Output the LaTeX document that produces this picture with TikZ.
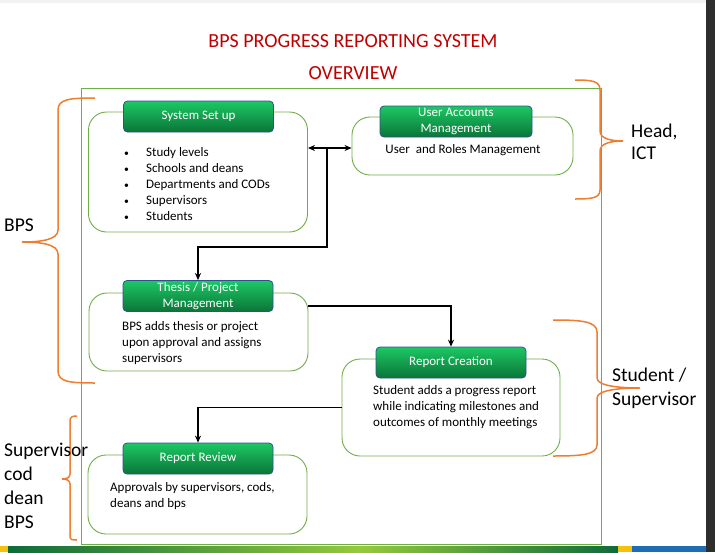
\documentclass[tikz,border=0pt]{standalone}
\usepackage{fontspec}
\setmainfont{Carlito}
\usetikzlibrary{arrows.meta}

\definecolor{titlered}{HTML}{C00000}
\definecolor{grpgreen}{HTML}{70AD47}
\definecolor{hdtop}{HTML}{1CC864}
\definecolor{hdbot}{HTML}{0B7538}
\definecolor{hdline}{HTML}{2F528F}
\definecolor{braceorange}{HTML}{ED7D31}
\definecolor{stripdark}{HTML}{0E6B3A}
\definecolor{striplight}{HTML}{95C93D}
\definecolor{stripyellow}{HTML}{F4C20D}
\definecolor{stripblue}{HTML}{1F6DB2}

\newcommand{\bul}{\makebox[22pt][l]{\scalebox{0.75}{\textbullet}}}

\tikzset{
  group/.style={draw=grpgreen, line width=0.9pt, rounded corners=18pt, fill=white, inner sep=0pt},
  header/.style={draw=hdline, line width=0.8pt, rounded corners=4pt, top color=hdtop, bottom color=hdbot,
    text=white, font=\fontsize{13}{16}\selectfont, align=center, minimum width=150pt, minimum height=31pt, inner sep=0pt},
  body/.style={font=\fontsize{13}{16}\selectfont, align=left, inner sep=0pt},
  title/.style={font=\fontsize{20}{24}\selectfont, text=titlered, inner sep=0pt},
  role/.style={font=\fontsize{19.5}{24}\selectfont, align=left, inner sep=0pt, anchor=west},
  flow/.style={line width=1.3pt, -{Stealth[length=7pt,width=6pt]}},
  brace/.style={draw=braceorange, line width=1.5pt},
}

\begin{document}
\begin{tikzpicture}[x=1pt, y=-1pt]
  \useasboundingbox (0,0) rectangle (715,552);
  % screen edges
  \fill[black!5] (0,0) rectangle (706,3);
  \fill[black!82] (706,0) rectangle (715,552);
  \shade[left color=stripdark, right color=striplight] (8,546) rectangle (360,552);
  \shade[left color=striplight, right color=stripdark] (360,546) rectangle (618,552);
  \fill[stripyellow] (0,546) rectangle (8,552);
  \fill[stripyellow] (618,546) rectangle (632,552);
  \fill[stripblue] (632,546) rectangle (706,552);

  % title
  \node[title] (title1) at (353,41) {BPS PROGRESS REPORTING SYSTEM};
  \node[title] (title2) at (353,73) {OVERVIEW};

  % frame
  \draw[grpgreen, line width=0.9pt] (81,88) rectangle (601,544);

  % groups
  \node[group, minimum width=219pt, minimum height=120pt] (setup) at (198,172) {};
  \node[group, minimum width=221pt, minimum height=58pt] (users) at (462.5,146) {};
  \node[group, minimum width=219pt, minimum height=78pt] (thesis) at (198.5,332) {};
  \node[group, minimum width=218pt, minimum height=97pt] (create) at (451,407.5) {};
  \node[group, minimum width=219pt, minimum height=79pt] (review) at (197.5,494.5) {};

  % headers
  \node[header] (setuphd) at (198.5,116.5) {System Set up};
  \node[header, minimum width=152pt] (usershd) at (456,121.5) {User Accounts\\Management};
  \node[header] (thesishd) at (198,296) {Thesis / Project\\Management};
  \node[header] (createhd) at (451,362.5) {Report Creation};
  \node[header] (reviewhd) at (198,458.5) {Report Review};

  % texts
  \node[body, anchor=west] (setuptxt) at (124,184)
    {\bul Study levels\\ \bul Schools and deans\\ \bul Departments and CODs\\ \bul Supervisors\\ \bul Students};
  \node[body] (userstxt) at (463,150) {User\ \ and Roles Management};
  \node[body, anchor=west] (thesistxt) at (122,343)
    {BPS adds thesis or project\\upon approval and assigns\\supervisors};
  \node[body, anchor=west] (createtxt) at (373,407)
    {Student adds a progress report\\while indicating milestones and\\outcomes of monthly meetings};
  \node[body, anchor=west] (reviewtxt) at (110,496)
    {Approvals by supervisors, cods,\\deans and bps};

  % arrows
  \coordinate (split) at (327,148);
  \coordinate (bend) at (327,247);
  \draw[line width=1.2pt, {Stealth[length=7pt,width=6pt]}-{Stealth[length=7pt,width=6pt]}]
    (setup.east |- split) -- (users.west |- split);
  \draw[flow] (split) -- (bend) -| (thesishd.north);
  \draw[flow] ([yshift=26pt]thesis.east) -| (createhd.north);
  \draw[flow] (create.west) -| (reviewhd.north);

  % braces
  \draw[brace] (95,98) .. controls (70,98) and (58,99) .. (58,110) -- (58,230)
    .. controls (58,240) and (40,242) .. (22,242) .. controls (40,242) and (58,244) .. (58,254)
    -- (58,371) .. controls (58,382) and (70,383) .. (95,383);
  \draw[brace] (575,80) .. controls (592,80) and (600,81) .. (600,90) -- (600,131)
    .. controls (600,139) and (612,141) .. (623,141) .. controls (612,141) and (600,143) .. (600,151)
    -- (600,190) .. controls (600,198) and (592,199) .. (575,199);
  \draw[brace] (553,320) .. controls (580,320) and (597,321) .. (597,332) -- (597,378)
    .. controls (597,386) and (620,388) .. (640,388) .. controls (620,388) and (597,390) .. (597,398)
    -- (597,445) .. controls (597,455) and (580,456) .. (553,456);
  \draw[brace] (77,416) .. controls (72,416) and (70,417) .. (70,421) -- (70,474)
    .. controls (70,478) and (66,479) .. (62,479) .. controls (66,479) and (70,480) .. (70,484)
    -- (70,536) .. controls (70,540) and (72,540) .. (77,540);

  % roles
  \node[role] (bpslbl) at (4,225) {BPS};
  \node[role, font=\fontsize{19.5}{22}\selectfont] (ictlbl) at (631,142) {Head,\\ICT};
  \node[role] (stulbl) at (612,388) {Student /\\Supervisor};
  \node[role] (suplbl) at (4,486) {Supervisor\\cod\\dean\\BPS};
\end{tikzpicture}
\end{document}
